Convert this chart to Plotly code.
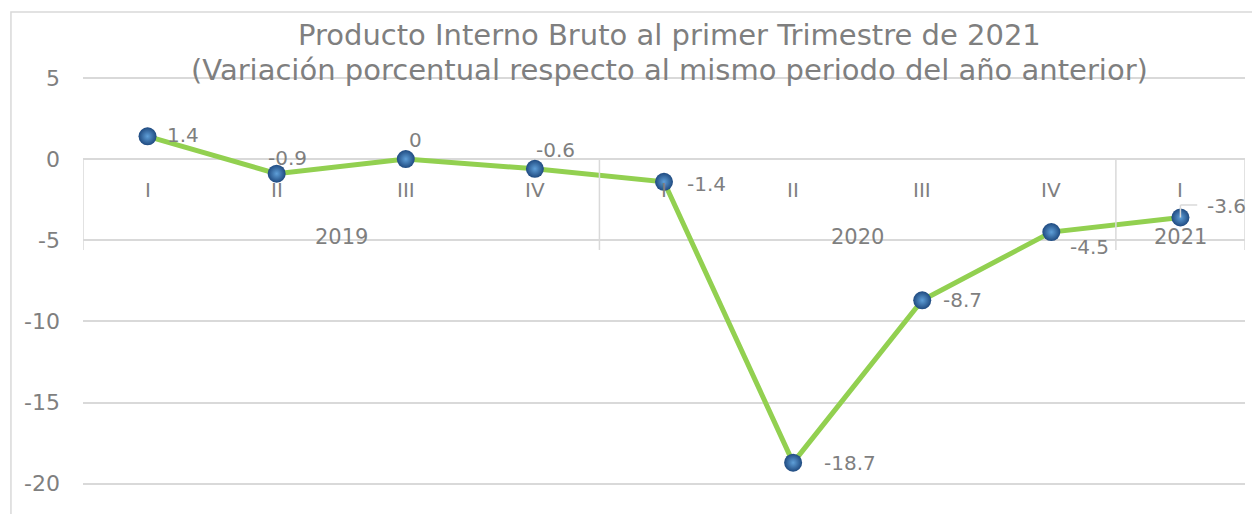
"""PIB trimestral: variación porcentual anual, 2019-2021 (Plotly)."""

import plotly.graph_objects as go

# Data
quarters = ["I", "II", "III", "IV", "I", "II", "III", "IV", "I"]
years = ["2019", "2020", "2021"]
year_spans = [(0, 3), (4, 7), (8, 8)]
values = [1.4, -0.9, 0.0, -0.6, -1.4, -18.7, -8.7, -4.5, -3.6]
y_ticks = [5, 0, -5, -10, -15, -20]
title_lines = [
    "Producto Interno Bruto al primer Trimestre de 2021",
    "(Variación porcentual respecto al mismo periodo del año anterior)",
]

# Styles
GREY = "#7f7f7f"
GRID = "#d9d9d9"
GREEN = "#92d050"
FONT = "DejaVu Sans"
label_offsets = [
    (35, 1), (11, 16), (10, 19), (21, 19), (42, -2),
    (57, 0), (40, 0), (38, -15), (46, 11),
]

x_idx = list(range(len(values)))

fig = go.Figure()
fig.add_trace(
    go.Scatter(
        x=x_idx,
        y=values,
        mode="lines+markers",
        line=dict(color=GREEN, width=5),
        marker=dict(
            size=18,
            color="#1f4a80",
            gradient=dict(type="radial", color="#5f9fd8"),
            line=dict(width=0),
        ),
        hoverinfo="y",
        showlegend=False,
    )
)

annotations = []
for i, v in enumerate(values):
    dx, dy = label_offsets[i]
    annotations.append(dict(
        x=i, y=v, xref="x", yref="y", text=f"{v:g}", showarrow=False,
        xshift=dx, yshift=dy, font=dict(family=FONT, size=20, color=GREY),
    ))

# quarter labels and year labels below the zero line
for i, q in enumerate(quarters):
    annotations.append(dict(
        x=i, y=0, xref="x", yref="y", text=q, showarrow=False, yshift=-31,
        font=dict(family=FONT, size=20, color=GREY),
    ))
for yr, (a, b) in zip(years, year_spans):
    annotations.append(dict(
        x=(a + b) / 2, y=0, xref="x", yref="y", text=yr, showarrow=False,
        yshift=-78, font=dict(family=FONT, size=21, color=GREY),
    ))

# title, two centred lines
for line, ty in zip(title_lines, [1.057, 0.977]):
    annotations.append(dict(
        x=0.505, y=ty, xref="paper", yref="paper", text=line, showarrow=False,
        xanchor="center", yanchor="middle",
        font=dict(family=FONT, size=29, color=GREY),
    ))

shapes = []
# separators of the year groups
for x in [-0.5, 3.5, 7.5, 8.5]:
    shapes.append(dict(type="line", xref="x", yref="y", x0=x, x1=x, y0=0, y1=-5.6,
                       line=dict(color=GRID, width=1.5)))
# leader line for last label
shapes.append(dict(type="line", xref="x", yref="y", x0=8.0, x1=8.0, y0=-3.6, y1=-2.83,
                   line=dict(color=GRID, width=1.5)))
shapes.append(dict(type="line", xref="x", yref="y", x0=8.0, x1=8.13, y0=-2.83, y1=-2.83,
                   line=dict(color=GRID, width=1.5)))
# chart border
shapes.append(dict(type="rect", xref="paper", yref="paper", x0=-0.062, x1=1.02,
                   y0=-0.05, y1=1.109, line=dict(color=GRID, width=1.5), layer="below"))

fig.update_layout(
    width=1252,
    height=506,
    margin=dict(l=75, r=15, t=52, b=14),
    paper_bgcolor="white",
    plot_bgcolor="white",
    font=dict(family=FONT, color=GREY),
    annotations=annotations,
    shapes=shapes,
)
fig.update_xaxes(
    range=[-0.5, 8.5], showgrid=False, zeroline=False, showticklabels=False,
    showline=False, fixedrange=True,
)
fig.update_yaxes(
    range=[-21, 6.1], tickvals=y_ticks, ticktext=[str(t) for t in y_ticks],
    showgrid=True, gridcolor=GRID, gridwidth=1.5,
    zeroline=False, showline=False, ticklabelstandoff=22,
    tickfont=dict(family=FONT, size=22, color=GREY),
)

fig.write_html("out.html")
